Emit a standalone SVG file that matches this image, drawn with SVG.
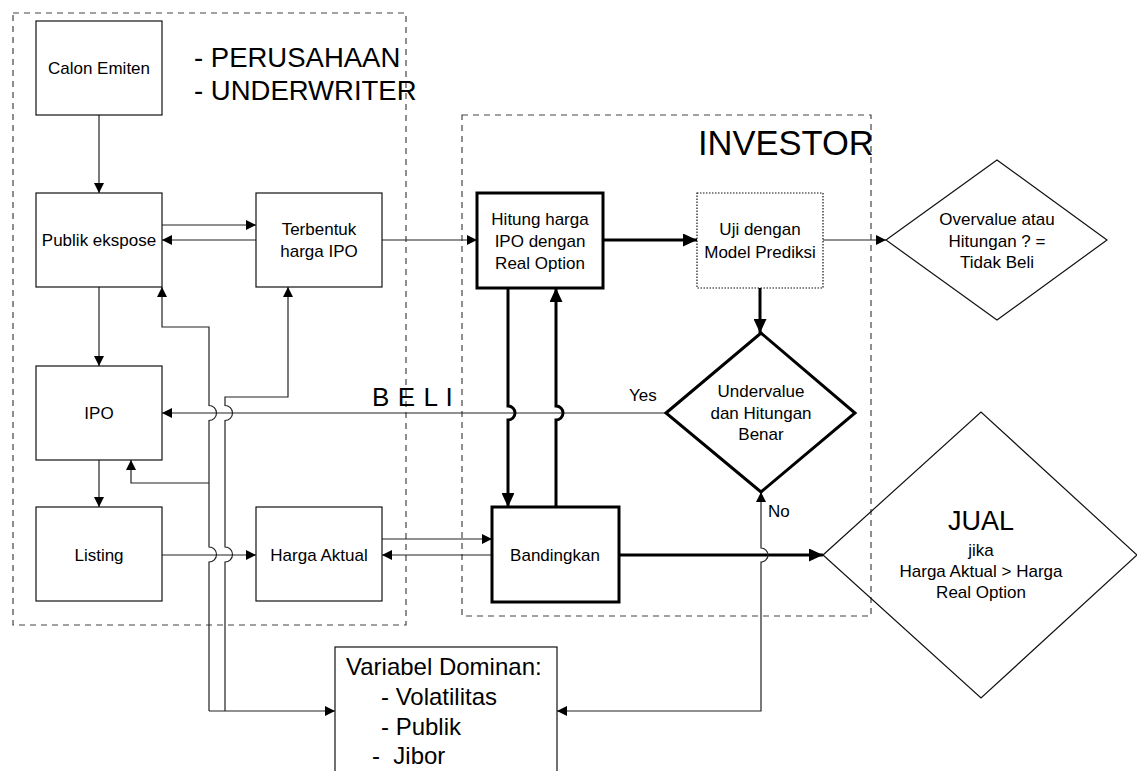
<svg xmlns="http://www.w3.org/2000/svg" width="1137" height="771" viewBox="0 0 1137 771">
<defs>
<style>
.t{font-family:"Liberation Sans",Arial,sans-serif;font-size:17px;fill:#000}
.c{text-anchor:middle}
.box{fill:none;stroke:#111;stroke-width:1.2}
.thick{fill:none;stroke:#000;stroke-width:3}
.dash{fill:none;stroke:#444;stroke-width:1.2;stroke-dasharray:6,5}
.ln{fill:none;stroke:#222;stroke-width:1.2}
.tk{fill:none;stroke:#000;stroke-width:3}
.a{marker-end:url(#ah)}
.ak{marker-end:url(#ahk)}
</style>
<marker id="ah" viewBox="0 0 10 10" refX="10" refY="5" markerWidth="10" markerHeight="10" markerUnits="userSpaceOnUse" orient="auto-start-reverse">
<path d="M0,0 L10,5 L0,10 z" fill="#000"/>
</marker>
<marker id="ahk" viewBox="0 0 14 13" refX="14" refY="6.5" markerWidth="14" markerHeight="13" markerUnits="userSpaceOnUse" orient="auto">
<path d="M0,0 L14,6.5 L0,13 z" fill="#000"/>
</marker>
</defs>
<rect x="0" y="0" width="1137" height="771" fill="#fff"/>

<g id="group-perusahaan">
<rect class="dash" x="13" y="13" width="393" height="612"/>
<text class="t" x="194" y="67" style="font-size:27.5px">- PERUSAHAAN</text>
<text class="t" x="194" y="100" style="font-size:27.5px">- UNDERWRITER</text>
</g>
<g id="group-investor">
<rect class="dash" x="462" y="115" width="409" height="501"/>
<text class="t" x="698" y="155" style="font-size:34.5px">INVESTOR</text>
</g>

<g id="connectors">
<path class="ln a" d="M99,115 L99,193"/>
<path class="ln a" d="M99,287 L99,366"/>
<path class="ln a" d="M99,460 L99,507"/>
<path class="ln a" d="M162,225 L256,225"/>
<path class="ln a" d="M256,240 L162,240"/>
<path class="ln a" d="M382,240 L477,240"/>
<path class="tk ak" d="M603,240 L697,240"/>
<path class="ln a" d="M823,240 L886,240"/>
<path class="tk ak" d="M760,288 L760,333"/>
<path class="ln a" d="M666,413 L162,413"/>
<path class="ln a" d="M162,555 L256,555"/>
<path class="ln a" d="M382,539 L492,539"/>
<path class="ln a" d="M492,555 L382,555"/>
<path class="tk ak" d="M619,555 L823,555"/>
<path class="tk ak" d="M508,288 L508,406 A7,7 0 0 1 508,420 L508,507"/>
<path class="tk ak" d="M556,507 L556,420 A7,7 0 0 0 556,406 L556,288"/>
<path class="ln a" d="M209,711 L209,562 A7.5,7.5 0 0 0 209,547 L209,420.5 A7.5,7.5 0 0 0 209,405.5 L209,327 L162,327 L162,287"/>
<path class="ln a" d="M209,483 L131,483 L131,460"/>
<path class="ln a" d="M209,711 L335,711"/>
<path class="ln a" d="M225,711 L225,562 A7.5,7.5 0 0 0 225,547 L225,420.5 A7.5,7.5 0 0 0 225,405.5 L225,397 L288,397 L288,287"/>
<path class="ln a" d="M557,711 L761,711 L761,562 A7,7 0 0 0 761,548 L761,492" marker-start="url(#ah)"/>
<text class="t" x="629" y="401">Yes</text>
<text class="t" x="768" y="517">No</text>
<text class="t" x="372" y="406" style="font-size:26px;letter-spacing:0.6px">B E L I</text>
</g>

<g id="node-calon-emiten">
<rect class="box" x="36" y="21" width="126" height="94"/>
<text class="t c" x="99" y="74">Calon Emiten</text>
</g>
<g id="node-publik-ekspose">
<rect class="box" x="36" y="193" width="126" height="94"/>
<text class="t c" x="99" y="246">Publik ekspose</text>
</g>
<g id="node-terbentuk">
<rect class="box" x="256" y="193" width="126" height="94"/>
<text class="t c" x="319" y="235">Terbentuk</text>
<text class="t c" x="319" y="257">harga IPO</text>
</g>
<g id="node-ipo">
<rect class="box" x="36" y="366" width="126" height="94"/>
<text class="t c" x="99" y="419">IPO</text>
</g>
<g id="node-listing">
<rect class="box" x="36" y="507" width="126" height="94"/>
<text class="t c" x="99" y="561">Listing</text>
</g>
<g id="node-harga-aktual">
<rect class="box" x="256" y="507" width="126" height="94"/>
<text class="t c" x="319" y="561">Harga Aktual</text>
</g>
<g id="node-hitung">
<rect class="thick" x="477" y="193" width="126" height="95"/>
<text class="t c" x="540" y="225">Hitung harga</text>
<text class="t c" x="540" y="247">IPO dengan</text>
<text class="t c" x="540" y="269">Real Option</text>
</g>
<g id="node-uji">
<rect x="697" y="193" width="126" height="95" fill="none" stroke="#111" stroke-width="1.2" stroke-dasharray="1.5,1.5"/>
<text class="t c" x="760" y="235">Uji dengan</text>
<text class="t c" x="760" y="258">Model Prediksi</text>
</g>
<g id="node-overvalue">
<polygon class="box" points="886,240 997,160 1107,240 997,320"/>
<text class="t c" x="997" y="225">Overvalue atau</text>
<text class="t c" x="997" y="247">Hitungan ? =</text>
<text class="t c" x="997" y="268">Tidak Beli</text>
</g>
<g id="node-undervalue">
<polygon class="thick" points="666,413 761,333 855,413 761,492"/>
<text class="t c" x="761" y="397">Undervalue</text>
<text class="t c" x="761" y="419">dan Hitungan</text>
<text class="t c" x="761" y="440">Benar</text>
</g>
<g id="node-bandingkan">
<rect class="thick" x="492" y="507" width="127" height="95"/>
<text class="t c" x="555" y="561">Bandingkan</text>
</g>
<g id="node-jual">
<polygon class="box" points="823,555 981,412 1137,555 981,698"/>
<text class="t c" x="981" y="530" style="font-size:27px">JUAL</text>
<text class="t c" x="981" y="556">jika</text>
<text class="t c" x="981" y="577">Harga Aktual &gt; Harga</text>
<text class="t c" x="981" y="598">Real Option</text>
</g>
<g id="node-variabel">
<rect class="box" x="335" y="647" width="222" height="135"/>
<text class="t" x="346" y="675" style="font-size:24px">Variabel Dominan:</text>
<text class="t" x="381" y="705" style="font-size:24px">- Volatilitas</text>
<text class="t" x="381" y="735" style="font-size:24px">- Publik</text>
<text class="t" x="372" y="764" style="font-size:24px;white-space:pre" xml:space="preserve">-  Jibor</text>
</g>
</svg>
